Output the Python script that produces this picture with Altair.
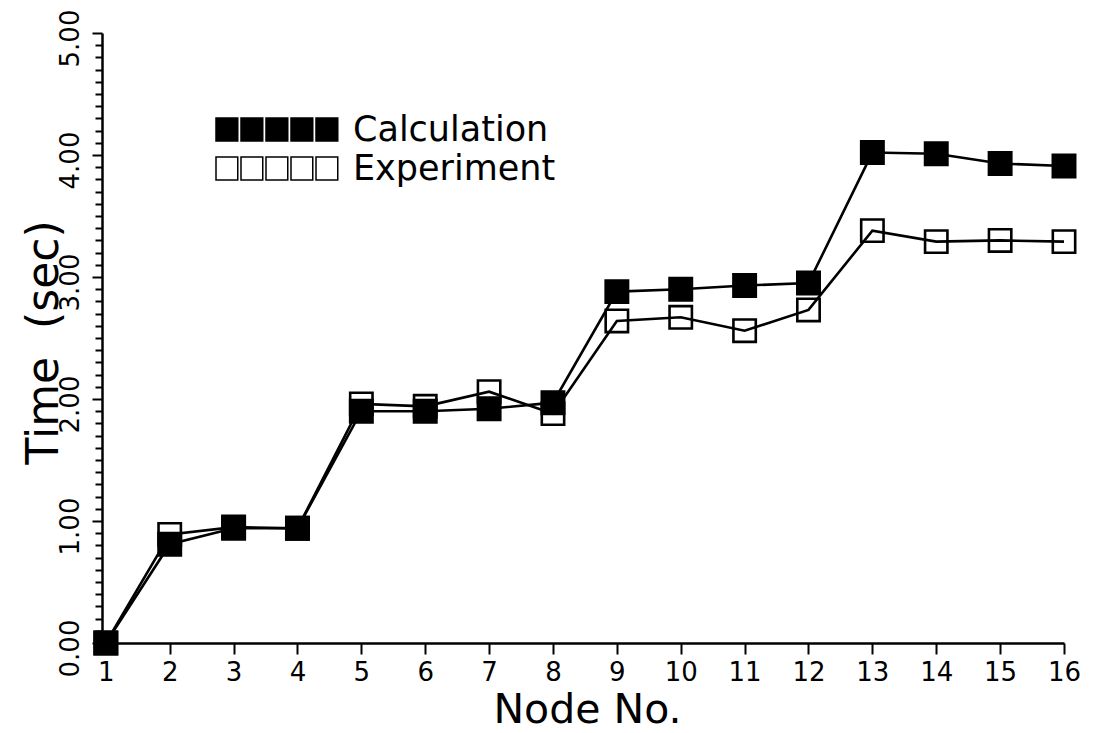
import altair as alt
import pandas as pd

nodes = list(range(1, 17))
calculation = [0.00, 0.81, 0.94, 0.94, 1.90, 1.90, 1.92, 1.97, 2.88, 2.90, 2.93, 2.95, 4.02, 4.01, 3.93, 3.91]
experiment = [0.00, 0.89, 0.95, 0.94, 1.96, 1.94, 2.06, 1.88, 2.64, 2.67, 2.56, 2.73, 3.38, 3.29, 3.30, 3.29]
series_names = ["Calculation", "Experiment"]

rows = []
for n, v in zip(nodes, experiment):
    rows.append({"node": n, "time": v, "series": "Experiment"})
for n, v in zip(nodes, calculation):
    rows.append({"node": n, "time": v, "series": "Calculation"})
df = pd.DataFrame(rows)

FONT = "DejaVu Sans"
y_ticks = [round(i * 0.1, 1) for i in range(51)]
is_major = "abs(datum.value - round(datum.value)) < 0.001"

# five-square strip used as the legend symbol (unit square = 2 path units)
def strip(n=5):
    parts = []
    for i in range(n):
        x0 = -1 + 2 * i
        parts.append(f"M{x0:.2f},-0.92h1.74v1.84h-1.74z")
    return " ".join(parts)

x_enc = alt.X(
    "node:Q",
    scale=alt.Scale(domain=[0.94, 16], nice=False, zero=False),
    axis=alt.Axis(
        values=nodes, format="d", title="Node No.",
        labelFont=FONT, labelFontSize=26, labelColor="black", labelPadding=5,
        tickSize=11, tickWidth=2, tickColor="black",
        domainColor="black", domainWidth=2.5, grid=False,
        labelFlush=False, labelOverlap=False,
        titleFont=FONT, titleFontSize=41, titleFontWeight="normal", titleColor="black",
        titleX=485, titleY=79, titleAlign="center", titleBaseline="alphabetic",
    ),
)
y_enc = alt.Y(
    "time:Q",
    scale=alt.Scale(domain=[0, 5], nice=False),
    axis=alt.Axis(
        values=y_ticks, title="Time\u00a0 (sec)",
        labelExpr=f"{is_major} ? format(datum.value, '.2f') : ''",
        labelAngle=-90, labelAlign="center", labelBaseline="bottom",
        labelFont=FONT, labelFontSize=26, labelColor="black", labelPadding=9,
        labelOffset=5, labelOverlap=False, labelFlush=False, labelBound=False,
        tickSize={"condition": {"test": is_major, "value": 10}, "value": 7},
        tickWidth=2, tickColor="black",
        domainColor="black", domainWidth=2.5, grid=False,
        titleFont=FONT, titleFontSize=44, titleFontWeight="normal", titleColor="black",
        titleAngle=-90, titleX=-45, titleY=309, titleAlign="center", titleBaseline="alphabetic",
    ),
)

lines = alt.Chart(df).mark_line(color="black", strokeWidth=2.6).encode(
    x=x_enc, y=y_enc, detail="series:N"
)
points = alt.Chart(df).mark_point(
    shape="square", filled=True, size=500, stroke="black", strokeWidth=2.6, opacity=1
).encode(
    x=x_enc, y=y_enc,
    fill=alt.Fill(
        "series:N",
        scale=alt.Scale(domain=series_names, range=["black", "transparent"]),
        legend=alt.Legend(
            title=None, orient="none", legendX=109, legendY=79,
            symbolType=strip(), symbolSize=625,
            symbolStrokeColor="black", symbolStrokeWidth=1.5,
            labelFont=FONT, labelFontSize=35, labelColor="black",
            labelOffset=107, rowPadding=3, labelLimit=400,
        ),
    ),
)

chart = alt.layer(lines, points).properties(
    width=962, height=610,
    autosize=alt.AutoSizeParams(type="none"),
    padding={"left": 102, "top": 33, "right": 36, "bottom": 90},
    background="white",
).configure_view(stroke=None)

chart.save("out.html", embed_options={"renderer": "svg", "actions": False})
